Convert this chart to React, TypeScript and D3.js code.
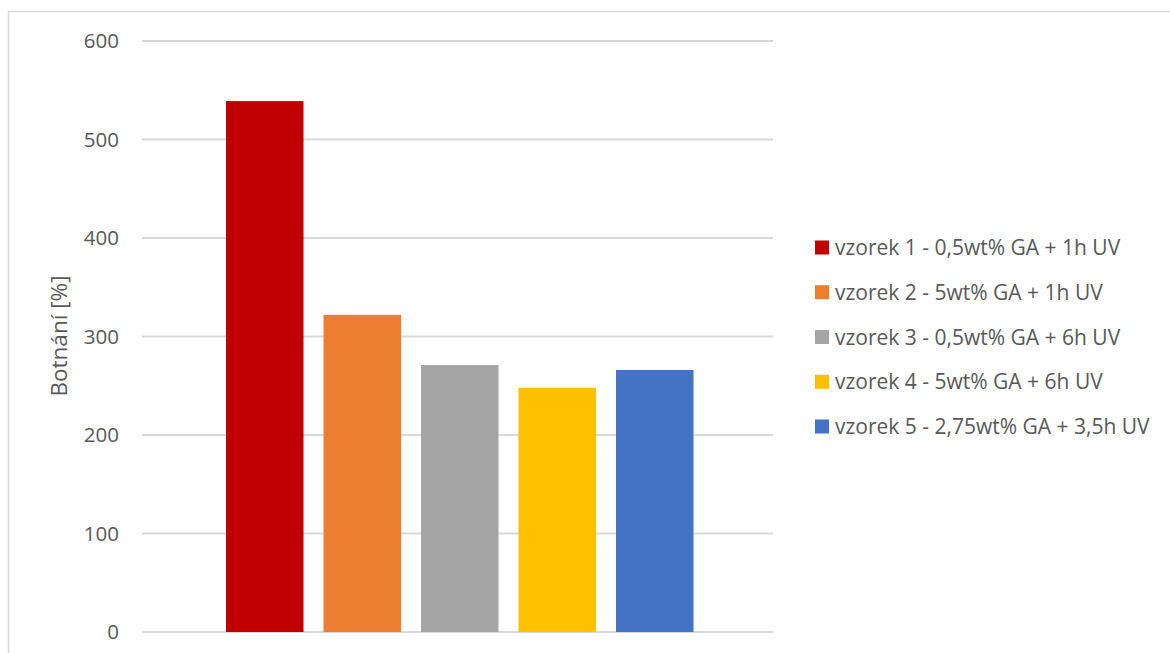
import React from "react";
import * as d3 from "d3";

const seriesNames = [
  "vzorek 1 - 0,5wt% GA + 1h UV",
  "vzorek 2 - 5wt% GA + 1h UV",
  "vzorek 3 - 0,5wt% GA + 6h UV",
  "vzorek 4 - 5wt% GA + 6h UV",
  "vzorek 5 - 2,75wt% GA + 3,5h UV",
];
const seriesValues = [539, 322, 271, 248, 266];
const seriesColors = ["#C00000", "#ED7D31", "#A5A5A5", "#FFC000", "#4472C4"];
const yTicks = [0, 100, 200, 300, 400, 500, 600];
const yTitle = "Botnání [%]";

const W = 1170;
const H = 653;
const FONT = "'Open Sans', sans-serif";
const TXT = "#595959";

export default function App() {
  const y = d3.scaleLinear().domain([0, 600]).range([632, 41]);
  const x = d3
    .scaleBand<string>()
    .domain(seriesNames)
    .range([226, 693.5])
    .paddingInner(0.205)
    .paddingOuter(0);
  const legendY = d3
    .scalePoint<string>()
    .domain(seriesNames)
    .range([247.5, 426.5]);

  return (
    <svg
      width={W}
      height={H}
      style={{ position: "absolute", left: 0, top: 0, background: "#fff" }}
      fontFamily={FONT}
    >
      <rect x={0} y={0} width={W} height={H} fill="#fff" />
      <path d={`M8.5,${H + 5} V11.5 H${W + 5}`} fill="none" stroke="#d9d9d9" strokeWidth={1.5} />
      {yTicks.map((t) => (
        <g key={t}>
          <line x1={142} x2={773} y1={y(t)} y2={y(t)} stroke="#d9d9d9" strokeWidth={2} />
          <text
            x={119}
            y={y(t)}
            dy="0.36em"
            textAnchor="end"
            fontSize={20.5}
            fill={TXT}
          >
            {t}
          </text>
        </g>
      ))}
      {seriesNames.map((s, i) => (
        <rect
          key={s}
          x={x(s)}
          y={y(seriesValues[i])}
          width={x.bandwidth()}
          height={y(0) - y(seriesValues[i])}
          fill={seriesColors[i]}
        />
      ))}
      <text
        transform={`translate(67,336) rotate(-90)`}
        textAnchor="middle"
        fontSize={22.5}
        fill={TXT}
      >
        {yTitle}
      </text>
      {seriesNames.map((s, i) => (
        <g key={s} transform={`translate(815,${legendY(s)})`}>
          <rect x={0} y={-7} width={14} height={14} fill={seriesColors[i]} />
          <text x={20} y={0} dy="0.36em" fontSize={21} fill={TXT}>
            {s}
          </text>
        </g>
      ))}
    </svg>
  );
}
